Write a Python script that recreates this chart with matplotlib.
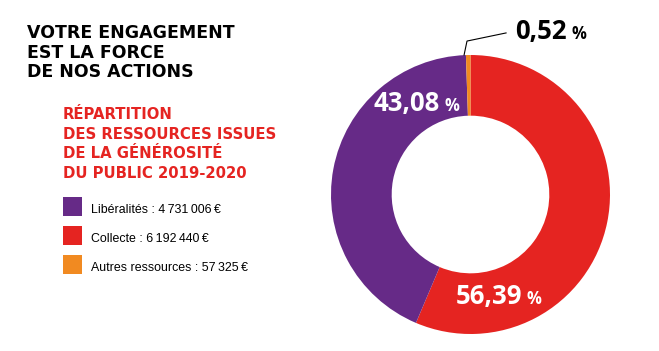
import matplotlib
matplotlib.use("Agg")
import matplotlib.pyplot as plt

# ---- data ----
categories = ["Libéralités", "Collecte", "Autres ressources"]
amounts = [4731006, 6192440, 57325]
amount_labels = ["4\u2009731\u2009006\u2009€", "6\u2009192\u2009440\u2009€", "57\u2009325\u2009€"]
percent_labels = ["43,08", "56,39", "0,52"]
colors = ["#662a87", "#e52421", "#f18a21"]

W, H = 659, 351
fig = plt.figure(figsize=(W / 100, H / 100), dpi=100)
fig.patch.set_facecolor("white")

def px(x, y):
    return x / W, 1 - y / H

TITLE_FONT = ["DejaVu Sans"]
PCT_FONT = ["Open Sans", "DejaVu Sans"]
LEG_FONT = ["Liberation Sans Narrow", "Liberation Sans", "DejaVu Sans"]

# Titles
for i, line in enumerate(["VOTRE ENGAGEMENT", "EST LA FORCE", "DE NOS ACTIONS"]):
    fig.text(*px(27, 38 + i * 19.5), line, family=TITLE_FONT, weight="bold",
             fontsize=12.5, color="black", va="baseline", ha="left")
for i, line in enumerate(["RÉPARTITION", "DES RESSOURCES ISSUES",
                          "DE LA GÉNÉROSITÉ", "DU PUBLIC 2019-2020"]):
    fig.text(*px(63, 119 + i * 19.5), line, family=TITLE_FONT, weight="bold",
             fontsize=10.7, color="#e52421", va="baseline", ha="left")

# Legend
for i, (cat, amt, col) in enumerate(zip(categories, amount_labels, colors)):
    top = 197 + i * 29
    x0, y0 = px(63, top + 19)
    fig.patches.append(plt.Rectangle((x0, y0), 19 / W, 19 / H, transform=fig.transFigure,
                                     facecolor=col, edgecolor="none", figure=fig))
    fig.text(*px(91, top + 16), f"{cat} : {amt}", family=LEG_FONT, fontsize=8.9,
             color="black", va="baseline", ha="left")

# Donut
cx, cy, R = 470.5, 194.5, 139.5
half = 140
ax = fig.add_axes([(cx - half) / W, (H - cy - half) / H, 2 * half / W, 2 * half / H])
ax.axis("off")

order = [1, 0, 2]  # clockwise from top: Collecte, Libéralités, Autres
r = R / half
ax.pie([amounts[k] for k in order], colors=[colors[k] for k in order],
       startangle=90, counterclock=False, radius=r,
       wedgeprops=dict(width=r * 0.435, edgecolor="none"))
ax.set_xlim(-1, 1)
ax.set_ylim(-1, 1)
ax.set_aspect("equal")

def pct(xr, yb, num, color, numsize=18.5, pctsize=12):
    ax.text(xr, yb, num, family=PCT_FONT, weight="bold", fontsize=numsize,
            color=color, ha="right", va="baseline", clip_on=False)
    ax.text(xr + 0.035, yb, "%", family=PCT_FONT, weight="bold", fontsize=pctsize,
            color=color, ha="left", va="baseline", clip_on=False)

pct(-0.218, 0.596, percent_labels[0], "white")
pct(0.368, -0.782, percent_labels[1], "white")
pct(0.689, 1.111, percent_labels[2], "black")

ax.plot([-0.046, -0.025, 0.254], [0.996, 1.096, 1.154], color="black", lw=0.8,
        clip_on=False)

fig.savefig("out.png", dpi=100, facecolor="white")
